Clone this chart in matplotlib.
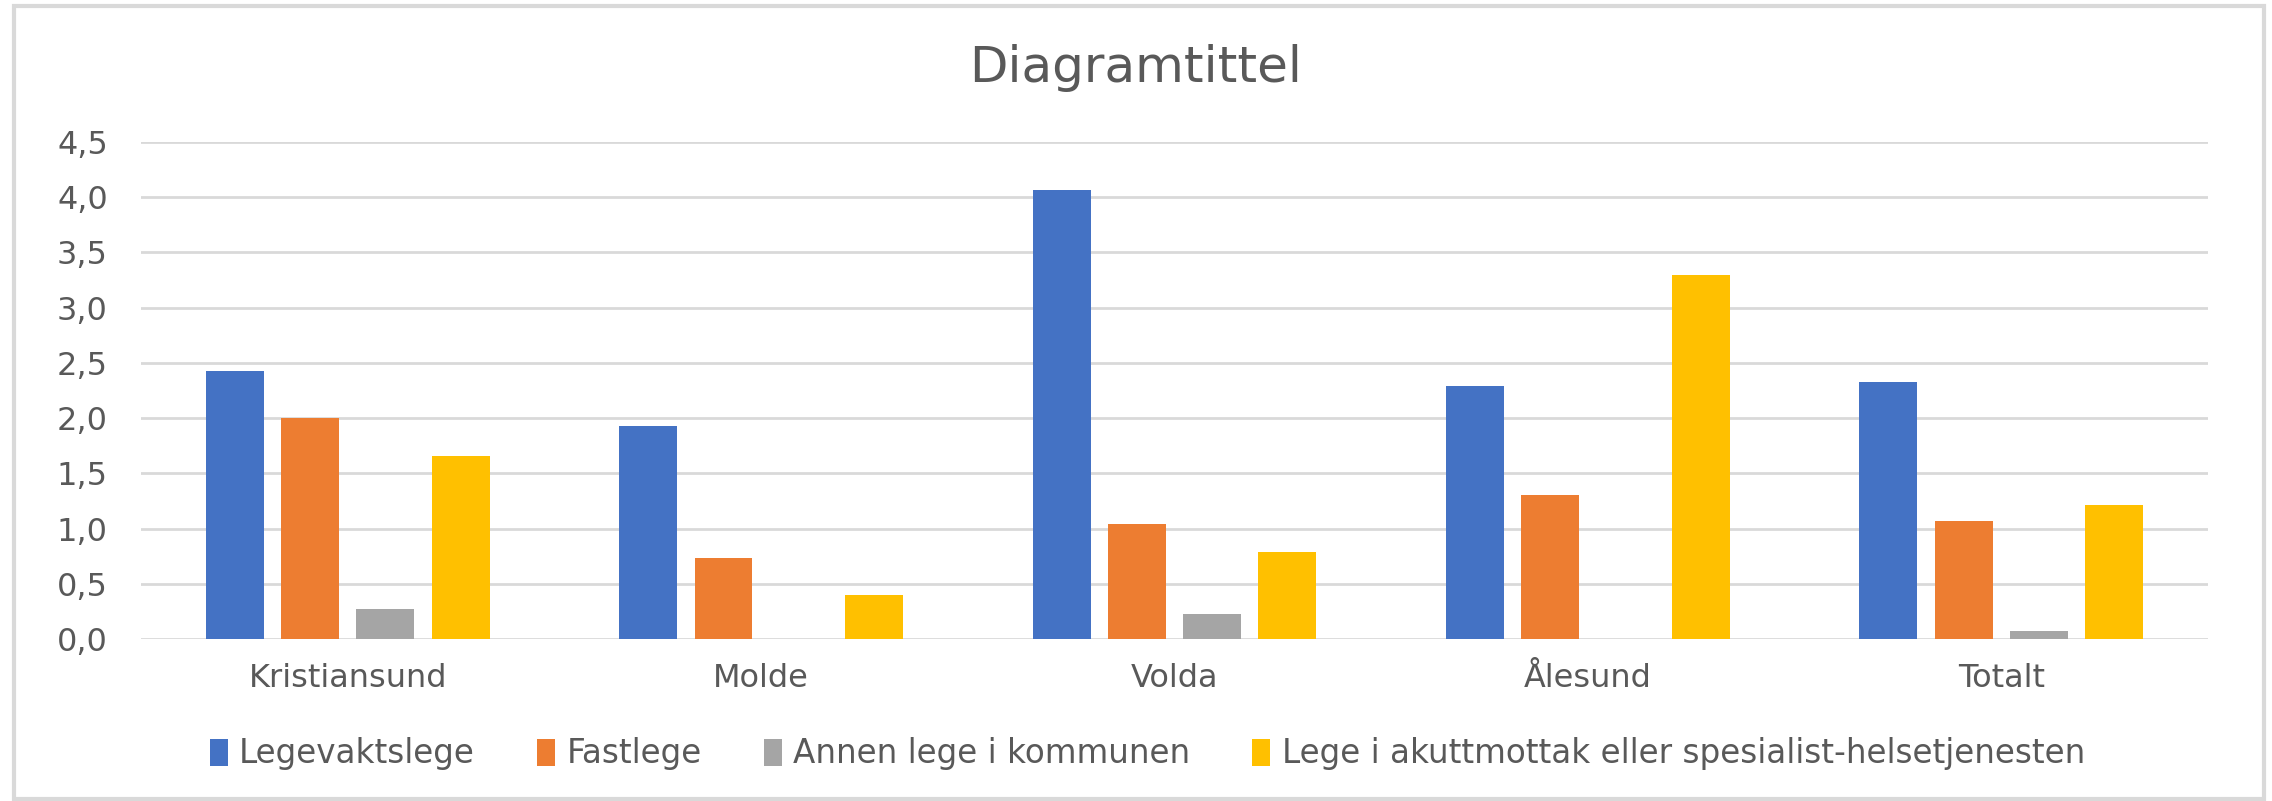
import matplotlib.pyplot as plt
import numpy as np
from matplotlib.patches import Rectangle

categories = ["Kristiansund", "Molde", "Volda", "Ålesund", "Totalt"]
series_names = [
    "Legevaktslege",
    "Fastlege",
    "Annen lege i kommunen",
    "Lege i akuttmottak eller spesialist-helsetjenesten",
]
legevaktslege = [2.43, 1.93, 4.07, 2.29, 2.33]
fastlege = [2.00, 0.73, 1.04, 1.30, 1.07]
annen_lege = [0.27, 0.0, 0.23, 0.0, 0.07]
akuttmottak = [1.66, 0.40, 0.79, 3.30, 1.21]
yticks = [0.0, 0.5, 1.0, 1.5, 2.0, 2.5, 3.0, 3.5, 4.0, 4.5]

colors = ["#4472C4", "#ED7D31", "#A5A5A5", "#FFC000"]
text_color = "#595959"

plt.rcParams["font.family"] = ["DejaVu Sans"]

fig = plt.figure(figsize=(22.72, 8.01), dpi=100)
ax = fig.add_axes([0.0621, 0.2022, 0.9097, 0.6205])

x = np.arange(len(categories))
width = 0.14
step = 0.182
handles = []
for i, (vals, name) in enumerate(zip([legevaktslege, fastlege, annen_lege, akuttmottak], series_names)):
    b = ax.bar(x + (i - 1.5) * step, vals, width, color=colors[i], label=name, zorder=3)
    handles.append(b)

ax.set_xlim(-0.5, len(categories) - 0.5)
ax.set_ylim(0, 4.5)
ax.set_yticks(yticks)
ax.set_yticklabels([f"{v:.1f}".replace(".", ",") for v in yticks])
ax.set_xticks(x)
ax.set_xticklabels(categories)
ax.grid(axis="y", color="#D9D9D9", linewidth=2, zorder=0)
for s in ax.spines.values():
    s.set_visible(False)
ax.tick_params(axis="both", length=0, labelsize=23, colors=text_color)
ax.tick_params(axis="x", pad=17)
ax.tick_params(axis="y", pad=24)

fig.text(0.5, 1 - 68 / 801, "Diagramtittel", ha="center", va="center",
         fontsize=36, color=text_color)

leg = fig.legend(handles=handles, loc="center", bbox_to_anchor=(0.505, 1 - 754 / 801),
                 ncol=4, frameon=False, fontsize=23.5, handlelength=0.55, handleheight=0.9,
                 handletextpad=0.35, columnspacing=1.9, labelcolor=text_color)

fig.patches.append(Rectangle((14 / 2272, 0.002), 1 - 22 / 2272, 1 - 8 / 801,
                             transform=fig.transFigure, fill=False,
                             edgecolor="#D9D9D9", linewidth=3))

fig.savefig("out.png", dpi=100)
